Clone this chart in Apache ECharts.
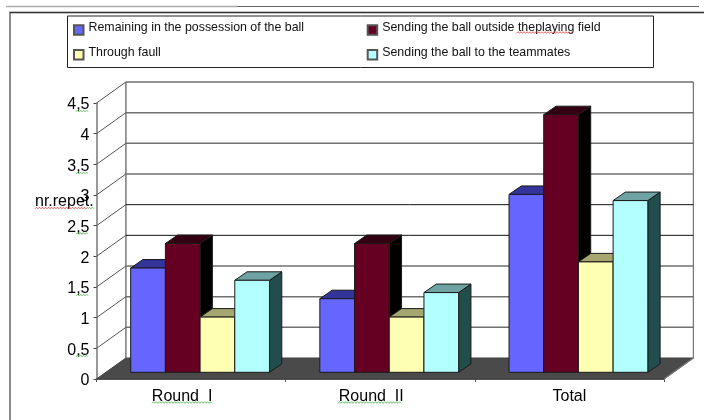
<!DOCTYPE html>
<html><head><meta charset="utf-8">
<style>html,body{margin:0;padding:0;background:#fff}#c{width:704px;height:420px}</style>
<script src="https://cdn.jsdelivr.net/npm/echarts@6/dist/echarts.min.js"></script>
</head><body><div id="c"></div>
<script>
const categories = ['Round  I', 'Round  II', 'Total'];
const remaining = [1.7, 1.2, 2.9];
const outside = [2.1, 2.1, 4.2];
const fault = [0.9, 0.9, 1.8];
const teammates = [1.5, 1.3, 2.8];
const seriesNames = ['Remaining in the possession of the ball', 'Sending the ball outside theplaying field', 'Through faull', 'Sending the ball to the teammates'];
const yTicks = [0, 0.5, 1, 1.5, 2, 2.5, 3, 3.5, 4, 4.5];

const FONT = '"Liberation Sans", Arial, sans-serif';
const WALL_DX = 29.4, WALL_DY = 21;
const BAR_W = 34.7, BAR_CX = 9, BAR_DY = 6.7, BAR_DEPTH_X = 12.3, BAR_DEPTH_Y = 8.5;
const palettes = [
  {front:'#6666ff', top:'#33339a', side:'#26267f'},
  {front:'#660022', top:'#330011', side:'#000000'},
  {front:'#ffffb3', top:'#a6a670', side:'#666648'},
  {front:'#b3ffff', top:'#6fa3a3', side:'#224d4d'}
];
const darkLines = [2, 2.5];

function poly(pts, fill, stroke, w){
  return {type:'polygon', shape:{points:pts}, style:{fill:fill, stroke:stroke, lineWidth:w===undefined?1:w}};
}
function barSeries(idx, values){
  const pal = palettes[idx];
  return {
    type:'custom', name:seriesNames[idx], coordinateSystem:'cartesian2d', z:5+idx,
    itemStyle:{color:pal.front, borderColor:'#555', borderWidth:0.8},
    encode:{x:0, y:1},
    data:values.map((v,i)=>[categories[i], v]),
    renderItem(params, api){
      const c = api.coord([api.value(0), api.value(1)]);
      const base = api.coord([api.value(0), 0])[1] - BAR_DY;
      const x0 = c[0] + BAR_CX + (idx-2)*BAR_W, x1 = x0 + BAR_W, yt = c[1] - BAR_DY;
      const dx = BAR_DEPTH_X, dy = BAR_DEPTH_Y, line = '#1a1a1a';
      return {type:'group', children:[
        poly([[x1,yt],[x1+dx,yt-dy],[x1+dx,base-dy],[x1,base]], pal.side, line),
        poly([[x0,yt],[x0+dx,yt-dy],[x1+dx,yt-dy],[x1,yt]], pal.top, line),
        poly([[x0,yt],[x1,yt],[x1,base],[x0,base]], pal.front, line)
      ]};
    }
  };
}
const wallSeries = {
  type:'custom', silent:true, z:1, coordinateSystem:'cartesian2d',
  data:yTicks.map(v=>[categories[0], v]),
  encode:{x:0, y:1},
  renderItem(params, api){
    const v = api.value(1), s = params.coordSys;
    const y = api.coord([0, v])[1], x0 = s.x, x1 = s.x + s.width;
    const kids = [];
    if (v === 0) {
      kids.push(poly([[x0,y],[x0+WALL_DX,y-WALL_DY],[x1+WALL_DX,y-WALL_DY],[x1,y]], '#4a4a4a', '#404040'));
      kids.push({type:'polyline', shape:{points:[[x0+WALL_DX,s.y-WALL_DY],[x0+WALL_DX,y-WALL_DY]]}, style:{stroke:'#7a7a7a', lineWidth:1.5, fill:null}});
      kids.push({type:'polyline', shape:{points:[[x1+WALL_DX,s.y-WALL_DY],[x1+WALL_DX,y-WALL_DY],[x1,y]]}, style:{stroke:'#7a7a7a', lineWidth:1.3, fill:null}});
    } else {
      const dark = darkLines.indexOf(v) >= 0;
      kids.push({type:'polyline', shape:{points:[[x0+WALL_DX,y-WALL_DY],[x1+WALL_DX,y-WALL_DY]]}, style:{stroke:dark?'#111':'#707070', lineWidth:dark?1:1.5, fill:null}});
      kids.push({type:'polyline', shape:{points:[[x0,y],[x0+WALL_DX,y-WALL_DY]]}, style:{stroke:'#555', lineWidth:1, fill:null}});
    }
    return {type:'group', children:kids};
  }
};
function squiggle(x0, x1, y, color){
  const pts = []; let up = false;
  for (let x = x0; x <= x1; x += 1.5) { pts.push([x, y + (up ? -0.8 : 0.8)]); up = !up; }
  return {type:'polyline', z:30, silent:true, shape:{points:pts}, style:{stroke:color, lineWidth:0.8, fill:null}};
}
const G = '#3fae3f', R = '#d84040';
const legendBase = {orient:'vertical', top:21.5, padding:0, itemWidth:9.5, itemHeight:9.5, itemGap:10.5, selectedMode:false, icon:'rect', z:20,
  formatter:n=>'{a|'+n+'}',
  textStyle:{fontFamily:FONT, fontSize:12.4, color:'#111', rich:{a:{fontFamily:FONT, fontSize:12.4, color:'#111', padding:[0,0,5,0]}}}};
const chart = echarts.init(document.getElementById('c'), null, {renderer:'canvas'});
chart.setOption({
  animation:false,
  backgroundColor:'#fff',
  grid:{left:96.5, right:40, top:103, bottom:41, containLabel:false},
  legend:[
    Object.assign({}, legendBase, {data:[seriesNames[0], seriesNames[2]], left:73}),
    Object.assign({}, legendBase, {data:[seriesNames[1], seriesNames[3]], left:366.7})
  ],
  xAxis:{type:'category', data:categories, boundaryGap:true,
    axisLine:{lineStyle:{color:'#666', width:1}},
    axisTick:{show:true, alignWithLabel:false, length:3, lineStyle:{color:'#555'}},
    axisLabel:{margin:10, color:'#000', fontFamily:FONT, fontSize:16,
      formatter:v=> v==='Total' ? '{t|'+v+'}' : '{r|'+v+'}',
      rich:{r:{fontFamily:FONT, fontSize:16, color:'#000', padding:[0,18,0,0]}, t:{fontFamily:FONT, fontSize:16, color:'#000'}}}
  },
  yAxis:{type:'value', min:0, max:4.5, interval:0.5,
    axisLine:{show:true, lineStyle:{color:'#777', width:1.5}},
    axisTick:{show:true, length:3, lineStyle:{color:'#444'}},
    splitLine:{show:false},
    axisLabel:{margin:7, color:'#000', fontFamily:FONT, fontSize:16,
      formatter:v=>'{a|'+String(v).replace('.', ',')+'}',
      rich:{a:{fontFamily:FONT, fontSize:16, color:'#000', padding:[4,0,0,0]}}}
  },
  series:[wallSeries, barSeries(0, remaining), barSeries(1, outside), barSeries(2, fault), barSeries(3, teammates)],
  graphic:[
    {type:'polyline', silent:true, shape:{points:[[6,6.5],[237,6.5]]}, style:{stroke:'#aaa', lineWidth:1.5, fill:null}},
    {type:'polyline', silent:true, shape:{points:[[237,6.5],[699,6.5]]}, style:{stroke:'#666', lineWidth:1, fill:null}},
    {type:'polyline', silent:true, shape:{points:[[704,12.5],[10,12.5],[10,420]]}, style:{stroke:'#8a8a8a', lineWidth:2, fill:null}},
    {type:'polyline', silent:true, shape:{points:[[704,12.5],[10,12.5]]}, style:{stroke:'#333', lineWidth:1, fill:null}},
    {type:'rect', silent:true, z:-1, shape:{x:67.5, y:16, width:586, height:51.5}, style:{fill:'#fff', stroke:'#222', lineWidth:1}},
    {type:'text', z:25, silent:true, x:35, y:194, style:{text:'nr.repet.', font:'16px '+FONT, fill:'#000'}},
    squiggle(35,88,208,R), squiggle(88,95,208,G),
    squiggle(76,88.5,111,G), squiggle(76,88.5,173,G), squiggle(76,88.5,233.5,G), squiggle(76,88.5,295,G), squiggle(76,88.5,356,G),
    squiggle(152,212,402.5,G), squiggle(338,401,402.5,G),
    squiggle(516.5,573,32.5,R)
  ]
});
</script></body></html>
